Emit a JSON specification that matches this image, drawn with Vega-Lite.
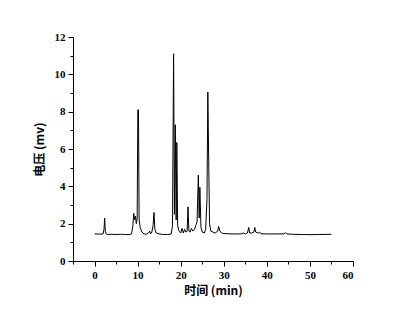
{
  "$schema": "https://vega.github.io/schema/vega-lite/v6.json",
  "width": 280,
  "height": 224,
  "autosize": {"type": "none"},
  "padding": {"left": 73, "top": 37, "right": 60, "bottom": 56},
  "background": "white",
  "config": {"view": {"stroke": null}},
  "data": {"values": [
    {"t": 0, "v": 1.45}, {"t": 1.5, "v": 1.44}, {"t": 2.0, "v": 1.46}, {"t": 2.2, "v": 1.7}, {"t": 2.35, "v": 2.3}, {"t": 2.5, "v": 1.6}, {"t": 2.7, "v": 1.45},
    {"t": 3, "v": 1.42}, {"t": 4, "v": 1.43}, {"t": 5, "v": 1.42}, {"t": 6, "v": 1.43}, {"t": 7, "v": 1.42}, {"t": 8, "v": 1.41},
    {"t": 8.6, "v": 1.45}, {"t": 8.9, "v": 1.9}, {"t": 9.1, "v": 2.55}, {"t": 9.3, "v": 2.2}, {"t": 9.5, "v": 2.4}, {"t": 9.7, "v": 2.0}, {"t": 9.9, "v": 2.3},
    {"t": 10.05, "v": 8.1}, {"t": 10.2, "v": 8.1}, {"t": 10.35, "v": 2.2}, {"t": 10.6, "v": 1.8}, {"t": 11, "v": 1.55}, {"t": 11.5, "v": 1.45},
    {"t": 12, "v": 1.43}, {"t": 12.5, "v": 1.5}, {"t": 12.8, "v": 1.6}, {"t": 13.0, "v": 1.45}, {"t": 13.3, "v": 1.55}, {"t": 13.6, "v": 1.9},
    {"t": 13.8, "v": 2.6}, {"t": 14.0, "v": 1.7}, {"t": 14.3, "v": 1.5}, {"t": 15, "v": 1.45}, {"t": 16, "v": 1.42}, {"t": 17, "v": 1.42},
    {"t": 17.8, "v": 1.45}, {"t": 18.1, "v": 1.9}, {"t": 18.35, "v": 11.1}, {"t": 18.55, "v": 2.5}, {"t": 18.75, "v": 7.3}, {"t": 18.95, "v": 2.2},
    {"t": 19.1, "v": 6.35}, {"t": 19.3, "v": 1.9}, {"t": 19.6, "v": 1.6}, {"t": 20, "v": 1.5}, {"t": 20.3, "v": 1.75}, {"t": 20.6, "v": 1.5},
    {"t": 20.9, "v": 1.7}, {"t": 21.2, "v": 1.55}, {"t": 21.5, "v": 1.6}, {"t": 21.7, "v": 2.9}, {"t": 21.9, "v": 1.6}, {"t": 22.2, "v": 1.55},
    {"t": 22.5, "v": 1.75}, {"t": 22.8, "v": 1.6}, {"t": 23.2, "v": 1.7}, {"t": 23.5, "v": 1.9}, {"t": 23.8, "v": 2.1}, {"t": 24.1, "v": 4.6},
    {"t": 24.3, "v": 2.3}, {"t": 24.45, "v": 3.95}, {"t": 24.7, "v": 1.8}, {"t": 25.0, "v": 1.55}, {"t": 25.5, "v": 1.5}, {"t": 25.8, "v": 1.7},
    {"t": 26.1, "v": 3.3}, {"t": 26.3, "v": 9.05}, {"t": 26.5, "v": 5.4}, {"t": 26.7, "v": 2.0}, {"t": 27.0, "v": 1.6}, {"t": 27.5, "v": 1.55},
    {"t": 28.0, "v": 1.5}, {"t": 28.6, "v": 1.6}, {"t": 28.8, "v": 1.85}, {"t": 29.1, "v": 1.6}, {"t": 29.5, "v": 1.5}, {"t": 30, "v": 1.47},
    {"t": 32, "v": 1.45}, {"t": 34, "v": 1.45}, {"t": 34.5, "v": 1.5}, {"t": 35, "v": 1.45}, {"t": 35.5, "v": 1.5}, {"t": 35.8, "v": 1.8},
    {"t": 36.0, "v": 1.5}, {"t": 36.5, "v": 1.5}, {"t": 37.0, "v": 1.55}, {"t": 37.2, "v": 1.8}, {"t": 37.4, "v": 1.55}, {"t": 38, "v": 1.5},
    {"t": 38.3, "v": 1.55}, {"t": 38.6, "v": 1.46}, {"t": 40, "v": 1.45}, {"t": 44, "v": 1.45}, {"t": 44.3, "v": 1.52}, {"t": 44.6, "v": 1.45},
    {"t": 46, "v": 1.43}, {"t": 48, "v": 1.42}, {"t": 50, "v": 1.41}, {"t": 52, "v": 1.42}, {"t": 55, "v": 1.43}
  ]},
  "mark": {"type": "line", "color": "black", "strokeWidth": 1, "interpolate": "linear"},
  "encoding": {
    "x": {
      "field": "t", "type": "quantitative",
      "scale": {"domain": [-5, 60], "nice": false, "zero": false},
      "axis": {
        "title": "时间 (min)",
        "values": [-5, 0, 5, 10, 15, 20, 25, 30, 35, 40, 45, 50, 55, 60],
        "labelExpr": "datum.value % 10 == 0 ? datum.label : ''",
        "tickSize": {"condition": {"test": "datum.value % 10 == 0", "value": 5}, "value": 3},
        "grid": false,
        "domainColor": "black", "tickColor": "black",
        "labelFont": "Liberation Serif", "labelFontWeight": "bold", "labelFontSize": 11, "labelColor": "black",
        "labelPadding": 3,
        "titleFont": "Noto Sans CJK SC", "titleFontWeight": "bold", "titleFontSize": 12, "titleColor": "black",
        "titlePadding": 5
      }
    },
    "y": {
      "field": "v", "type": "quantitative",
      "scale": {"domain": [0, 12], "nice": false},
      "axis": {
        "title": "电压 (mv)",
        "values": [0, 1, 2, 3, 4, 5, 6, 7, 8, 9, 10, 11, 12],
        "labelExpr": "datum.value % 2 == 0 ? datum.label : ''",
        "tickSize": {"condition": {"test": "datum.value % 2 == 0", "value": 5}, "value": 3},
        "grid": false,
        "domainColor": "black", "tickColor": "black",
        "labelFont": "Liberation Serif", "labelFontWeight": "bold", "labelFontSize": 11, "labelColor": "black",
        "labelPadding": 3,
        "titleFont": "Noto Sans CJK SC", "titleFontWeight": "bold", "titleFontSize": 12, "titleColor": "black",
        "titlePadding": 8
      }
    }
  }
}
